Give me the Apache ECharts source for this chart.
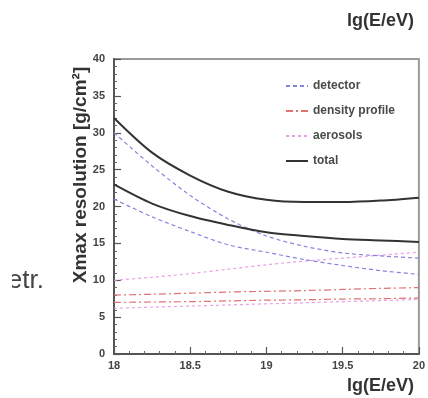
<!DOCTYPE html>
<html>
<head>
<meta charset="utf-8">
<script src="https://cdn.jsdelivr.net/npm/echarts@6/dist/echarts.min.js"></script>
<style>
  html, body { margin: 0; padding: 0; background: #fff; }
  #chart { width: 428px; height: 398px; }
</style>
</head>
<body>
<div id="chart"></div>
<script>
// Energy grid, lg(E/eV)
const energies = [18, 18.25, 18.5, 18.75, 19, 19.25, 19.5, 19.75, 20];

// Xmax resolution contributions [g/cm^2], upper and lower bands
const detectorUpper = [30.0, 25.5, 21.5, 18.3, 16.0, 14.6, 13.7, 13.3, 13.0];
const detectorLower = [21.0, 18.6, 16.6, 14.8, 13.8, 12.8, 12.0, 11.3, 10.8];
const densityUpper  = [8.0, 8.1, 8.25, 8.4, 8.5, 8.6, 8.75, 8.9, 9.0];
const densityLower  = [7.0, 7.05, 7.1, 7.2, 7.3, 7.35, 7.45, 7.5, 7.6];
const aerosolsUpper = [10.0, 10.4, 10.9, 11.5, 12.1, 12.6, 13.0, 13.4, 13.8];
const aerosolsLower = [6.2, 6.35, 6.5, 6.65, 6.8, 6.95, 7.1, 7.25, 7.4];
const totalUpper    = [32.0, 27.3, 24.2, 22.0, 20.9, 20.6, 20.6, 20.8, 21.2];
const totalLower    = [23.0, 20.4, 18.7, 17.5, 16.5, 16.0, 15.6, 15.4, 15.2];

const yTicks = [0, 5, 10, 15, 20, 25, 30, 35, 40];
const xTicks = [18, 18.5, 19, 19.5, 20];

const FONT = 'Liberation Sans, Arial, Helvetica, sans-serif';

function pts(vals) { return energies.map((e, i) => [e, vals[i]]); }

function curve(name, vals, color, type, width) {
  return {
    name: name,
    type: 'line',
    data: pts(vals),
    smooth: 0.3,
    symbol: 'none',
    lineStyle: { color: color, width: width, type: type },
    itemStyle: { color: color },
    emphasis: { disabled: true },
    animation: false
  };
}

const BLUE = '#8585e0';
const RED = '#e07272';
const PINK = '#e8a0e8';
const BLACK = '#333333';

const chart = echarts.init(document.getElementById('chart'), null, { renderer: 'canvas' });

chart.setOption({
  backgroundColor: '#ffffff',
  animation: false,
  grid: {
    left: 114, top: 59, right: 6, bottom: 44,
    show: true, borderColor: '#9a9a9a', borderWidth: 2, backgroundColor: 'transparent'
  },
  legend: {
    data: ['detector', 'density profile', 'aerosols', 'total'],
    orient: 'vertical',
    left: 280, top: 75,
    itemWidth: 22, itemHeight: 12, itemGap: 13,
    itemStyle: { opacity: 0 },
    textStyle: { fontFamily: FONT, fontSize: 12, fontWeight: 'bold', color: '#4a4a4a' },
    selectedMode: false
  },
  xAxis: {
    type: 'value',
    min: 18, max: 20, interval: 0.5,
    axisLine: { show: true, lineStyle: { color: '#555', width: 2 } },
    axisTick: { show: true, inside: true, length: 7, lineStyle: { color: '#555', width: 1.2 } },
    minorTick: { show: true, splitNumber: 5, length: 3, lineStyle: { color: '#666', width: 1 } },
    splitLine: { show: false },
    axisLabel: {
      fontFamily: FONT, fontSize: 11, fontWeight: 'bold', color: '#444', margin: 6,
      formatter: v => (xTicks.indexOf(v) >= 0 ? String(v) : '')
    }
  },
  yAxis: {
    type: 'value',
    min: 0, max: 40, interval: 5,
    axisLine: { show: true, lineStyle: { color: '#555', width: 2 } },
    axisTick: { show: true, inside: true, length: 7, lineStyle: { color: '#555', width: 1.2 } },
    minorTick: { show: true, splitNumber: 5, length: 3, lineStyle: { color: '#666', width: 1 } },
    splitLine: { show: false },
    axisLabel: {
      fontFamily: FONT, fontSize: 11, fontWeight: 'bold', color: '#444', margin: 9,
      formatter: v => (yTicks.indexOf(v) >= 0 ? String(v) : '')
    }
  },
  series: [
    curve('aerosols', aerosolsUpper, PINK, [3, 3], 1.2),
    curve('aerosols', aerosolsLower, PINK, [3, 3], 1.2),
    curve('density profile', densityUpper, RED, [7, 3, 2, 3], 1.2),
    curve('density profile', densityLower, RED, [7, 3, 2, 3], 1.2),
    curve('detector', detectorUpper, BLUE, [4, 3], 1.2),
    curve('detector', detectorLower, BLUE, [4, 3], 1.2),
    curve('total', totalUpper, BLACK, 'solid', 2),
    curve('total', totalLower, BLACK, 'solid', 2)
  ],
  graphic: [
    {
      type: 'text', left: 347, top: 12,
      style: { text: 'lg(E/eV)', font: 'bold 18px ' + FONT, fill: '#333' }
    },
    {
      type: 'text', left: 347, top: 377,
      style: { text: 'lg(E/eV)', font: 'bold 18px ' + FONT, fill: '#333' }
    },
    {
      type: 'text', x: 81, y: 175, rotation: Math.PI / 2,
      style: {
        text: 'Xmax resolution [g/cm²]', font: 'bold 19px ' + FONT, fill: '#333',
        align: 'center', verticalAlign: 'middle'
      }
    },
    {
      type: 'text', x: 44, y: 281,
      style: {
        text: 'etr.', font: '26px ' + FONT, fill: '#444',
        align: 'right', verticalAlign: 'middle'
      }
    },
    {
      type: 'rect', shape: { x: 0, y: 260, width: 12, height: 40 },
      style: { fill: '#fff' }, z: 100
    }
  ]
});
</script>
</body>
</html>
